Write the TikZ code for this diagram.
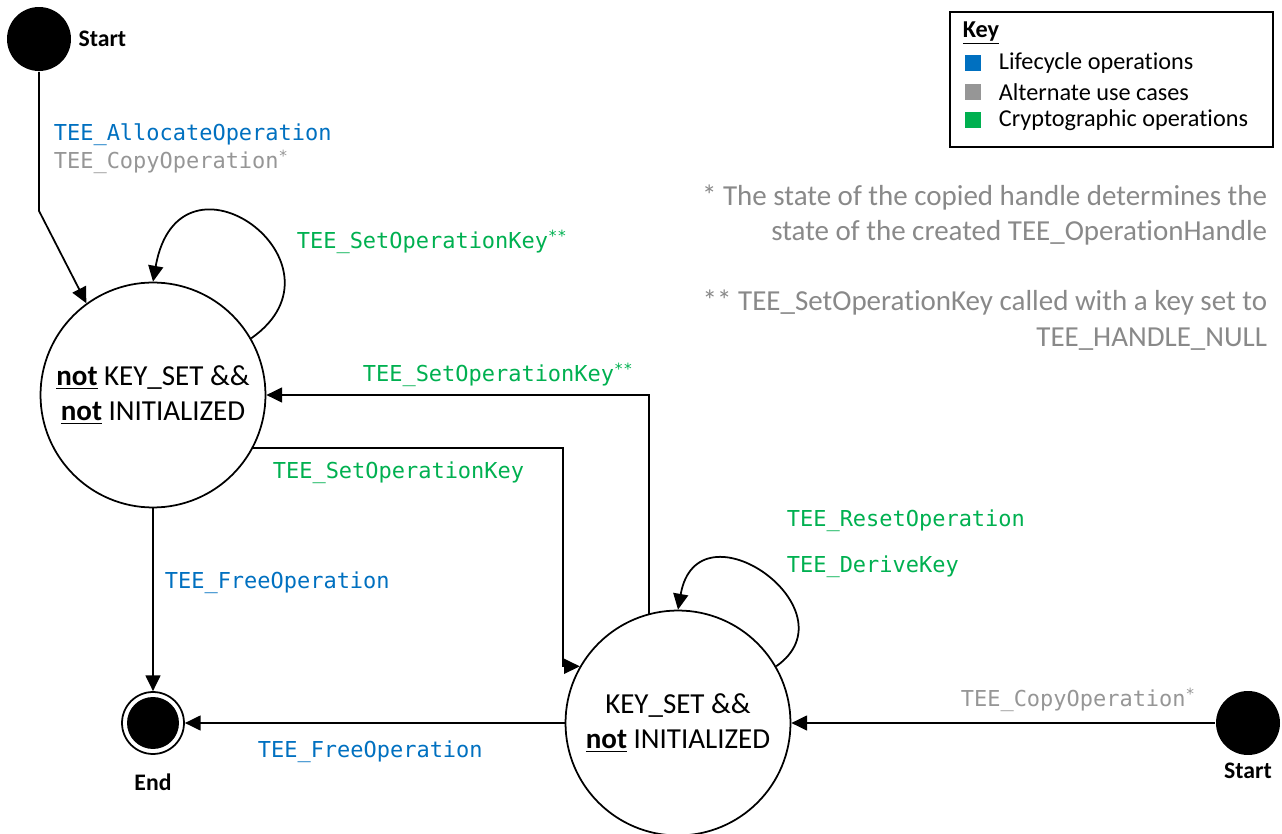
\documentclass[tikz,border=0pt]{standalone}
\usepackage{fontspec}
\setmainfont{Carlito}[Ligatures={NoCommon,NoRare},Contextuals=NoAlternate]
\newfontfamily\codefont{DejaVu Sans Mono}
\usetikzlibrary{arrows.meta,positioning}
\definecolor{lifeblue}{RGB}{0,112,192}
\definecolor{altgray}{RGB}{150,150,150}
\definecolor{cryptgreen}{RGB}{0,176,80}
\definecolor{notegray}{RGB}{137,137,137}
\begin{document}
\begin{tikzpicture}[x=0.02cm,y=0.02cm,line width=1pt,
  state/.style={draw, circle, minimum size=4.5cm, inner sep=0pt, align=center, font=\fontsize{16.5pt}{19.8pt}\selectfont},
  pseudo/.style={circle, fill=black, minimum size=1.28cm, inner sep=0pt},
  arr/.style={-{Triangle[length=9pt,width=8.5pt]}},
  op/.style={anchor=west, inner sep=0pt, font=\codefont\fontsize{12.5pt}{15pt}\selectfont},
  tag/.style={font=\bfseries\fontsize{13.5pt}{16pt}\selectfont},
  keysq/.style={minimum width=0.33cm, minimum height=0.31cm, inner sep=0pt},
  keytext/.style={anchor=west, inner sep=0pt, font=\fontsize{13.8pt}{16pt}\selectfont},
  note/.style={anchor=east, align=right, inner sep=0pt, text=notegray, font=\fontsize{16.5pt}{20.4pt}\selectfont}]
\useasboundingbox (0,0) rectangle (1282,-834);
% states
\node[pseudo] (start1) at (39,-39) {};
\node[tag, right=0pt of start1] (start1lbl) {Start};
\node[state] (s1) at (153,-395) {\underline{\textbf{not}} KEY\_SET \&\&\\\underline{\textbf{not}} INITIALIZED};
\node[state] (s2) at (678,-723) {KEY\_SET \&\&\\\underline{\textbf{not}} INITIALIZED};
\node[circle, draw, minimum size=1.24cm, inner sep=0pt,
  path picture={\fill[black] (path picture bounding box.center) circle (0.52cm);}] (endst) at (153,-723) {};
\node[tag, below=7pt of endst] (endlbl) {End};
\node[pseudo] (start2) at (1248,-723) {};
\node[tag, below=0pt of start2] (start2lbl) {Start};
% transitions
\draw[arr] (start1.south) -- ++(0,-139) -- (s1.126);
\draw[arr] (s1.30) .. controls +(35:130) and +(80:150) .. (s1.90);
\draw[arr] (s2.105) |- (s1.east);
\draw[arr] (s1.-28) -- ++(310,0) |- (s2.150);
\draw[arr] (s1.south) -- (endst.north);
\draw[arr] (s2.west) -- (endst.east);
\draw[arr] (s2.30) .. controls +(35:98) and +(80:113) .. (s2.90);
\draw[arr] (start2.west) -- (s2.east);
% operation labels
\node[op, text=lifeblue] (allocop) at (53,-135) {TEE\_AllocateOperation};
\node[op, text=altgray] (copyop) at (53,-162) {TEE\_CopyOperation\textsuperscript{*}};
\node[op, text=cryptgreen] (setkeyloop) at (296,-242) {TEE\_SetOperationKey\textsuperscript{**}};
\node[op, text=cryptgreen] (setkeyback) at (362,-375) {TEE\_SetOperationKey\textsuperscript{**}};
\node[op, text=cryptgreen] (setkey) at (272,-473) {TEE\_SetOperationKey};
\node[op, text=lifeblue] (freeop) at (164,-583) {TEE\_FreeOperation};
\node[op, text=lifeblue] (freeopb) at (257,-752) {TEE\_FreeOperation};
\node[op, text=cryptgreen] (resetop) at (786,-521) {TEE\_ResetOperation};
\node[op, text=cryptgreen] (derivekey) at (786,-567) {TEE\_DeriveKey};
\node[op, text=altgray] (copyopb) at (960,-700) {TEE\_CopyOperation\textsuperscript{*}};
% key
\draw[line width=0.8pt] (950,-12) rectangle (1273,-147);
\node[keytext, font=\bfseries\fontsize{13.8pt}{16pt}\selectfont] (keytitle) at (962,-33) {\underline{Key}};
\node[keysq, fill=lifeblue] (sqlife) at (973,-63) {};
\node[keysq, fill=altgray] (sqalt) at (973,-92) {};
\node[keysq, fill=cryptgreen] (sqcrypt) at (973,-120) {};
\node[keytext] (txtlife) at (998,-63) {Lifecycle operations};
\node[keytext] (txtalt) at (998,-92) {Alternate use cases};
\node[keytext] (txtcrypt) at (998,-120) {Cryptographic operations};
% notes
\node[note] (note1) at (1268,-215) {* The state of the copied handle determines the\\state of the created TEE\_OperationHandle};
\node[note] (note2) at (1268,-320) {** TEE\_SetOperationKey called with a key set to\\TEE\_HANDLE\_NULL};
\end{tikzpicture}
\end{document}
